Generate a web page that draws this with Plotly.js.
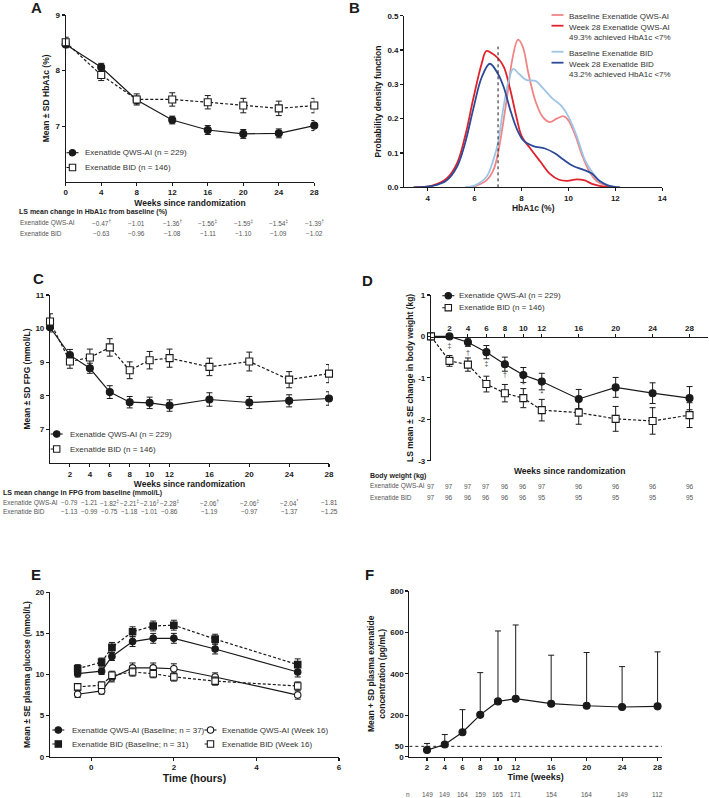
<!DOCTYPE html>
<html><head><meta charset="utf-8">
<script src="https://cdn.plot.ly/plotly-3.0.1.min.js"></script>
<style>body{margin:0;background:#fff}#chart{width:709px;height:798px}</style>
</head><body><div id="chart"></div>
<script>
// ---------------- Panel A: HbA1c ----------------
const weeksA = [0, 4, 8, 12, 16, 20, 24, 28];
const hba1cQws = [8.47, 8.06, 7.47, 7.11, 6.93, 6.86, 6.87, 7.01];
const hba1cQwsSd = [0.06, 0.07, 0.07, 0.07, 0.08, 0.08, 0.08, 0.09];
const hba1cBid = [8.51, 7.92, 7.48, 7.48, 7.43, 7.37, 7.32, 7.37];
const hba1cBidSd = [0.09, 0.10, 0.10, 0.12, 0.12, 0.13, 0.13, 0.13];
const lsWeeksA = [4, 8, 12, 16, 20, 24, 28];
const lsHbQws = ['−0.47<sup>†</sup>', '−1.01', '−1.36<sup>†</sup>', '−1.56<sup>‡</sup>', '−1.59<sup>‡</sup>', '−1.54<sup>‡</sup>', '−1.39<sup>†</sup>'];
const lsHbBid = ['−0.63', '−0.96', '−1.08', '−1.11', '−1.10', '−1.09', '−1.02'];

// ---------------- Panel B: HbA1c distributions ----------------
const kdeBaseQwsX = [5.6, 6.0, 6.5, 6.8, 7.0, 7.2, 7.4, 7.6, 7.85, 8.05, 8.3, 8.6, 8.9, 9.2, 9.5, 9.8, 10.0, 10.3, 10.6, 10.9, 11.2, 11.6, 12.2];
const kdeBaseQwsY = [0, 0.003, 0.02, 0.05, 0.10, 0.18, 0.27, 0.37, 0.43, 0.41, 0.33, 0.25, 0.205, 0.19, 0.20, 0.207, 0.195, 0.15, 0.09, 0.045, 0.018, 0.005, 0];
const kdeW28QwsX = [3.4, 4.2, 4.8, 5.25, 5.6, 5.95, 6.3, 6.5, 6.75, 7.0, 7.25, 7.5, 7.8, 8.0, 8.35, 8.8, 9.2, 9.6, 9.95, 10.35, 10.7, 11.0, 11.5, 12.0];
const kdeW28QwsY = [0, 0.005, 0.025, 0.07, 0.15, 0.26, 0.36, 0.397, 0.39, 0.376, 0.35, 0.29, 0.20, 0.15, 0.115, 0.075, 0.04, 0.022, 0.019, 0.023, 0.02, 0.01, 0.002, 0];
const kdeBaseBidX = [5.6, 6.0, 6.5, 6.8, 7.0, 7.2, 7.45, 7.65, 7.9, 8.2, 8.6, 8.9, 9.3, 9.7, 10.0, 10.35, 10.7, 11.0, 11.3, 11.7, 12.1];
const kdeBaseBidY = [0, 0.005, 0.03, 0.08, 0.13, 0.22, 0.31, 0.345, 0.33, 0.313, 0.31, 0.29, 0.26, 0.237, 0.206, 0.15, 0.08, 0.045, 0.02, 0.006, 0];
const kdeW28BidX = [3.4, 4.2, 4.8, 5.25, 5.6, 5.95, 6.3, 6.65, 7.0, 7.25, 7.5, 7.8, 8.1, 8.5, 9.0, 9.4, 9.8, 10.2, 10.6, 11.0, 11.3, 11.7, 12.2];
const kdeW28BidY = [0, 0.004, 0.02, 0.06, 0.13, 0.23, 0.32, 0.36, 0.33, 0.29, 0.23, 0.17, 0.135, 0.12, 0.113, 0.10, 0.08, 0.062, 0.052, 0.04, 0.02, 0.005, 0];
const targetB = 7;
const targetTopB = 0.41;
const legendB = ['Baseline Exenatide QWS-AI', 'Week 28 Exenatide QWS-AI<br>49.3% achieved HbA1c &lt;7%', 'Baseline Exenatide BID', 'Week 28 Exenatide BID<br>43.2% achieved HbA1c &lt;7%'];

// ---------------- Panel C: FPG ----------------
const weeksC = [0, 2, 4, 6, 8, 10, 12, 16, 20, 24, 28];
const fpgQws = [10.04, 9.21, 8.82, 8.11, 7.81, 7.79, 7.71, 7.89, 7.80, 7.85, 7.92];
const fpgQwsSd = [0.14, 0.17, 0.15, 0.19, 0.17, 0.17, 0.17, 0.2, 0.18, 0.18, 0.2];
const fpgBid = [10.21, 9.02, 9.14, 9.44, 8.76, 9.06, 9.12, 8.86, 9.02, 8.48, 8.66];
const fpgBidSd = [0.23, 0.2, 0.25, 0.26, 0.25, 0.26, 0.27, 0.26, 0.28, 0.24, 0.27];
const lsWeeksC = [2, 4, 6, 8, 10, 12, 16, 20, 24, 28];
const lsFpgQws = ['−0.79', '−1.21', '−1.82<sup>‡</sup>', '−2.21<sup>‡</sup>', '−2.16<sup>‡</sup>', '−2.28<sup>‡</sup>', '−2.06<sup>†</sup>', '−2.06<sup>‡</sup>', '−2.04<sup>*</sup>', '−1.81'];
const lsFpgBid = ['−1.13', '−0.99', '−0.75', '−1.18', '−1.01', '−0.86', '−1.19', '−0.97', '−1.37', '−1.25'];

// ---------------- Panel D: body weight ----------------
const weeksD = [0, 2, 4, 6, 8, 10, 12, 16, 20, 24, 28];
const bwChgQws = [0, 0.0, -0.14, -0.38, -0.67, -0.93, -1.09, -1.51, -1.23, -1.37, -1.49];
const bwChgQwsSe = [0, 0.04, 0.10, 0.16, 0.17, 0.18, 0.20, 0.23, 0.24, 0.25, 0.28];
const bwChgBid = [0, -0.59, -0.68, -1.15, -1.37, -1.49, -1.78, -1.84, -1.99, -2.04, -1.90];
const bwChgBidSe = [0, 0.13, 0.16, 0.19, 0.21, 0.23, 0.26, 0.28, 0.30, 0.32, 0.30];
const sigWeeksD = [2, 4, 6, 8, 10, 12];
const sigMarksD = ['‡', '†', '‡', '†', '*', '*'];
const sigYD = [-0.24, -0.40, -0.68, -0.94, -1.17, -1.39];
const bwQws = [97, 97, 97, 97, 96, 96, 97, 96, 96, 96, 96];
const bwBid = [97, 96, 96, 96, 96, 96, 95, 95, 95, 95, 95];

// ---------------- Panel E: plasma glucose ----------------
const hoursE = [-0.33, 0.25, 0.5, 1, 1.5, 2, 3, 5];
const pgQwsBase = [10.1, 10.4, 12.2, 14.0, 14.4, 14.4, 13.1, 10.3];
const pgQwsBaseSe = [0.4, 0.4, 0.5, 0.6, 0.6, 0.6, 0.6, 0.6];
const pgBidBase = [10.7, 11.5, 13.3, 15.2, 15.9, 16.0, 14.3, 11.2];
const pgBidBaseSe = [0.5, 0.5, 0.6, 0.6, 0.6, 0.6, 0.6, 0.7];
const pgQwsW16 = [7.6, 8.0, 9.6, 10.8, 10.8, 10.7, 9.7, 7.5];
const pgQwsW16Se = [0.4, 0.4, 0.5, 0.6, 0.6, 0.6, 0.5, 0.5];
const pgBidW16 = [8.5, 8.7, 9.9, 10.3, 10.1, 9.7, 9.2, 8.6];
const pgBidW16Se = [0.4, 0.4, 0.5, 0.5, 0.5, 0.5, 0.5, 0.5];

// ---------------- Panel F: plasma exenatide ----------------
const weeksF = [2, 4, 6, 8, 10, 12, 16, 20, 24, 28];
const exMean = [32, 59, 118, 202, 267, 280, 256, 246, 240, 243];
const exSd = [32, 48, 109, 204, 340, 356, 234, 257, 195, 263];
const exN = [149, 149, 164, 159, 165, 171, 154, 164, 149, 112];
const lloqF = 50;

// ---------------- helpers ----------------
const W = 709, H = 798;
const px = v => v / W, py = v => 1 - v / H;
const FONT = 'Liberation Sans, Arial, sans-serif';
const INK = '#1a1a1a';
const TBL = 6.5;
const shapes = [], annotations = [], traces = [];

function series(ax, x, y, err, sym, filled, dash, size, errMinus) {
  const e = {type: 'data', array: err, color: INK, thickness: 1, width: 3, visible: true};
  if (errMinus) { e.symmetric = false; e.arrayminus = errMinus; }
  traces.push({
    type: 'scatter', mode: 'lines+markers', x: x, y: y, xaxis: 'x' + ax, yaxis: 'y' + ax,
    cliponaxis: false, showlegend: false, hoverinfo: 'skip',
    line: {color: INK, width: 1.2, dash: dash ? '3px,2px' : 'solid'},
    marker: {symbol: sym, size: size || 7, color: filled ? INK : '#fff', line: {color: INK, width: 1.1}},
    error_y: e
  });
}
function legItem(cx, cy, sym, filled, dash, label, half, tx) {
  shapes.push({type: 'line', xref: 'paper', yref: 'paper', x0: px(cx - half), x1: px(cx + half), y0: py(cy), y1: py(cy),
    line: {color: INK, width: 1.1, dash: dash ? 'dot' : 'solid'}});
  const r = 3.2;
  shapes.push({type: sym === 'circle' ? 'circle' : 'rect', xref: 'paper', yref: 'paper',
    x0: px(cx - r), x1: px(cx + r), y0: py(cy + r), y1: py(cy - r),
    line: {color: INK, width: 1.1}, fillcolor: filled ? INK : '#fff'});
  annotations.push({xref: 'paper', yref: 'paper', x: px(tx), y: py(cy), xanchor: 'left', yanchor: 'middle',
    text: label, showarrow: false, font: {size: 8, color: '#333', family: FONT}});
}
function txt(x, y, text, opts) {
  annotations.push(Object.assign({xref: 'paper', yref: 'paper', x: px(x), y: py(y), text: text, showarrow: false,
    xanchor: 'left', yanchor: 'middle', font: {size: TBL, color: '#555', family: FONT}}, opts || {}));
}
function colText(ax, xs, yPix, texts, color) {
  xs.forEach((x, i) => annotations.push({xref: 'x' + ax, yref: 'paper', x: x, y: py(yPix), text: texts[i],
    showarrow: false, xanchor: 'center', yanchor: 'middle', font: {size: TBL, color: color || '#555', family: FONT}}));
}
const tickFont = {size: 8, color: INK, family: FONT, weight: 'bold'};
const titleFont = {size: 8.5, color: INK, family: FONT, weight: 'bold'};
const headFont = {size: 7, color: '#222', family: FONT, weight: 'bold'};
function axis(domainPx, range, extra, horizontal) {
  const d = horizontal ? [px(domainPx[0]), px(domainPx[1])] : [py(domainPx[1]), py(domainPx[0])];
  return Object.assign({domain: d, range: range, showgrid: false, zeroline: false, showline: true,
    linecolor: INK, linewidth: 1.1, ticks: 'outside', ticklen: 3, tickwidth: 1.1, tickcolor: INK,
    tickfont: tickFont, automargin: false, fixedrange: true}, extra);
}

// ---------------- A traces ----------------
series('', weeksA, hba1cQws, hba1cQwsSd, 'circle', true, false);
series('', weeksA, hba1cBid, hba1cBidSd, 'square', false, true);
legItem(72.5, 152.7, 'circle', true, false, 'Exenatide QWS-AI (n = 229)', 6, 82.5);
legItem(72.5, 167.5, 'square', false, true, 'Exenatide BID (n = 146)', 6, 82.5);
txt(16.5, 211.7, 'LS mean change in HbA1c from baseline (%)', {font: headFont});
txt(18, 223.3, 'Exenatide QWS-AI');
txt(18, 233.3, 'Exenatide BID');
colText('', lsWeeksA, 223.3, lsHbQws);
colText('', lsWeeksA, 233.3, lsHbBid);

// ---------------- B traces ----------------
const bCols = ['#f08585', '#e0222c', '#9fc5e6', '#2d4a98'];
[[kdeBaseQwsX, kdeBaseQwsY], [kdeW28QwsX, kdeW28QwsY], [kdeBaseBidX, kdeBaseBidY], [kdeW28BidX, kdeW28BidY]].forEach((c, i) => {
  traces.push({type: 'scatter', mode: 'lines', x: c[0], y: c[1], xaxis: 'x2', yaxis: 'y2', showlegend: false, hoverinfo: 'skip',
    line: {color: bCols[i], width: 1.8, shape: 'spline', smoothing: 1}});
});
shapes.push({type: 'line', xref: 'x2', yref: 'y2', x0: targetB, x1: targetB, y0: 0, y1: targetTopB, line: {color: INK, width: 1, dash: 'dot'}});
const bLegY = [15, 25.7, 51.7, 62.7];
legendB.forEach((t, i) => {
  shapes.push({type: 'line', xref: 'paper', yref: 'paper', x0: px(551.5), x1: px(563.5), y0: py(bLegY[i]), y1: py(bLegY[i]), line: {color: bCols[i], width: 1.8}});
  annotations.push({xref: 'paper', yref: 'paper', x: px(567), y: py(bLegY[i] - 4.8), xanchor: 'left', yanchor: 'top', align: 'left',
    text: t, showarrow: false, font: {size: 8, color: '#333', family: FONT}});
});

// ---------------- C traces ----------------
series('3', weeksC, fpgQws, fpgQwsSd, 'circle', true, false);
series('3', weeksC, fpgBid, fpgBidSd, 'square', false, true);
legItem(56.7, 434, 'circle', true, false, 'Exenatide QWS-AI (n = 229)', 6, 67.5);
legItem(56.7, 449, 'square', false, true, 'Exenatide BID (n = 146)', 6, 67.5);
txt(1, 493.3, 'LS mean change in FPG from baseline (mmol/L)', {font: headFont});
txt(1, 502.7, 'Exenatide QWS-AI');
txt(1, 511.3, 'Exenatide BID');
colText('3', lsWeeksC, 502.7, lsFpgQws);
colText('3', lsWeeksC, 511.3, lsFpgBid);

// ---------------- D traces ----------------
series('4', weeksD, bwChgQws, bwChgQwsSe, 'circle', true, false);
series('4', weeksD, bwChgBid, bwChgBidSe, 'square', false, true);
traces.push({type: 'scatter', mode: 'text', x: sigWeeksD, y: sigYD, text: sigMarksD, xaxis: 'x4', yaxis: 'y4',
  showlegend: false, hoverinfo: 'skip', cliponaxis: false, textfont: {size: 7, color: '#444', family: FONT}});
legItem(448.3, 295.7, 'circle', true, false, 'Exenatide QWS-AI (n = 229)', 6, 457);
legItem(448.3, 307.7, 'square', false, true, 'Exenatide BID (n = 146)', 6, 457);
txt(569.5, 470.7, 'Weeks since randomization', {xanchor: 'center', font: titleFont});
txt(368, 476, 'Body weight (kg)', {font: headFont});
txt(368, 486, 'Exenatide QWS-AI');
txt(368, 497.3, 'Exenatide BID');
colText('4', weeksD, 486, bwQws.map(String));
colText('4', weeksD, 497.3, bwBid.map(String));

// ---------------- E traces ----------------
series('5', hoursE, pgQwsBase, pgQwsBaseSe, 'circle', true, false, 6.5);
series('5', hoursE, pgBidBase, pgBidBaseSe, 'square', true, true, 6.5);
series('5', hoursE, pgQwsW16, pgQwsW16Se, 'circle', false, false, 6.5);
series('5', hoursE, pgBidW16, pgBidW16Se, 'square', false, true, 6.5);
legItem(58.3, 730, 'circle', true, false, 'Exenatide QWS-AI (Baseline; n = 37)', 6, 70);
legItem(58.3, 744, 'square', true, true, 'Exenatide BID (Baseline; n = 31)', 6, 70);
legItem(210.5, 730, 'circle', false, false, 'Exenatide QWS-AI (Week 16)', 6, 220);
legItem(210.5, 744, 'square', false, true, 'Exenatide BID (Week 16)', 6, 220);

// ---------------- F traces ----------------
series('6', weeksF, exMean, exSd, 'circle', true, false, 7, weeksF.map(() => 0));
shapes.push({type: 'line', xref: 'x6', yref: 'y6', x0: 0, x1: 28.5, y0: lloqF, y1: lloqF, line: {color: INK, width: 1, dash: 'dot'}});
txt(407.7, 794, 'n', {xanchor: 'center'});
colText('6', weeksF, 794, exN.map(String));

// ---------------- panel letters ----------------
[['A', 36, 7], ['B', 354, 7], ['C', 38, 278], ['D', 367, 280], ['E', 36, 574.5], ['F', 369, 574.5]].forEach(l =>
  txt(l[1], l[2], l[0], {xanchor: 'center', font: {size: 15, color: INK, family: FONT, weight: 'bold'}}));

const wkTicks = [2, 4, 6, 8, 10, 12, 16, 20, 24, 28];
const layout = {
  width: W, height: H, margin: {l: 0, r: 0, t: 0, b: 0}, paper_bgcolor: '#fff', plot_bgcolor: 'rgba(0,0,0,0)',
  showlegend: false, font: {family: FONT, color: INK},
  xaxis: axis([65.7, 314.3], [0, 28], {anchor: 'y', tickvals: weeksA,
    title: {text: 'Weeks since randomization', font: titleFont, standoff: 3}}, true),
  yaxis: axis([15, 181.7], [6, 9], {anchor: 'x', tickvals: [7, 8, 9],
    title: {text: 'Mean ± SD HbA1c (%)', font: titleFont, standoff: 4}}),
  xaxis2: axis([404.2, 662.3], [3, 14], {anchor: 'y2', tickvals: [4, 6, 8, 10, 12, 14],
    title: {text: 'HbA1c (%)', font: titleFont, standoff: 3}}, true),
  yaxis2: axis([15.7, 187.3], [0, 0.5], {anchor: 'x2', tickvals: [0, 0.1, 0.2, 0.3, 0.4, 0.5], tickformat: '.1f',
    title: {text: 'Probability density function', font: titleFont, standoff: 4}}),
  xaxis3: axis([50, 329], [0, 28], {anchor: 'y3', tickvals: wkTicks,
    title: {text: 'Weeks since randomization', font: titleFont, standoff: 0}}, true),
  yaxis3: axis([295, 463], [6, 11], {anchor: 'x3', tickvals: [7, 8, 9, 10, 11],
    title: {text: 'Mean ± SD FPG (mmol/L)', font: titleFont, standoff: 3}}),
  xaxis4: axis([431, 708], [0, 30], {anchor: 'free', position: py(336.7), side: 'top', tickvals: wkTicks}, true),
  yaxis4: axis([295, 460.7], [-3, 1], {anchor: 'x4', tickvals: [-3, -2, -1, 0, 1], ticktext: ['-3', '-2', '-1', '0', '1'],
    title: {text: 'LS mean ± SE change in body weight (kg)', font: titleFont, standoff: 3}}),
  xaxis5: axis([50, 339], [-1, 6], {anchor: 'y5', tickvals: [0, 2, 4, 6],
    title: {text: 'Time (hours)', font: {size: 10.5, color: INK, family: FONT, weight: 'bold'}, standoff: 2}}, true),
  yaxis5: axis([592.3, 756.7], [0, 20], {anchor: 'x5', tickvals: [0, 5, 10, 15, 20],
    title: {text: 'Mean ± SE plasma glucose (mmol/L)', font: titleFont, standoff: 3}}),
  xaxis6: axis([409.3, 662], [0, 28.5], {anchor: 'y6', tickvals: wkTicks,
    title: {text: 'Time (weeks)', font: {size: 9, color: INK, family: FONT, weight: 'bold'}, standoff: 2}}, true),
  yaxis6: axis([591, 756.7], [0, 800], {anchor: 'x6', tickvals: [0, 50, 200, 400, 600, 800],
    title: {text: 'Mean + SD plasma exenatide<br>concentration (pg/mL)', font: titleFont, standoff: 3}}),
  shapes: shapes, annotations: annotations
};
Plotly.newPlot('chart', traces, layout, {staticPlot: true, displayModeBar: false});
</script></body></html>
